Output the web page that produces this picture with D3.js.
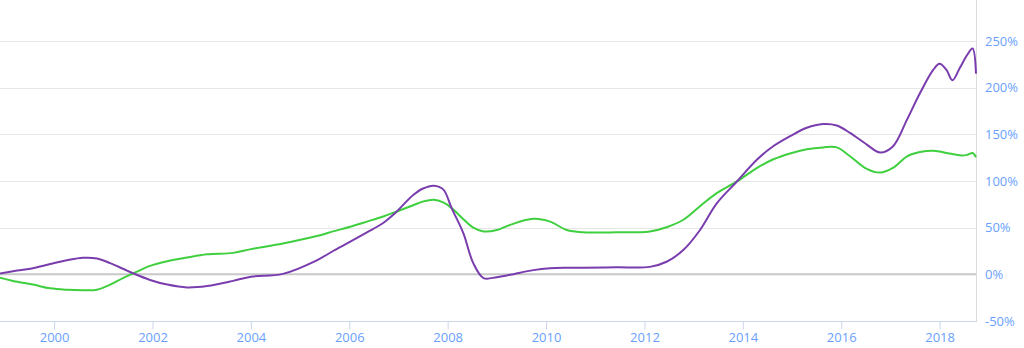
<!DOCTYPE html>
<html>
<head>
<meta charset="utf-8">
<script src="https://cdn.jsdelivr.net/npm/d3@7"></script>
<style>
  html, body { margin: 0; padding: 0; background: #fff; }
  svg { display: block; font-family: "Open Sans", sans-serif; }
</style>
</head>
<body>
<svg id="chart" width="1024" height="348"></svg>
<script>
// ---- data (decimal years, percent values) ----
const dates = [1998.90, 1999.25, 1999.57, 1999.92, 2000.26, 2000.59, 2000.87, 2001.14, 2001.40, 2001.61,
  2001.95, 2002.30, 2002.70, 2003.11, 2003.64, 2004.00, 2004.65, 2005.34, 2005.67, 2006.02,
  2006.36, 2006.69, 2006.90, 2007.30, 2007.50, 2007.72, 2007.91, 2008.08, 2008.32, 2008.52,
  2008.73, 2009.00, 2009.27, 2009.74, 2010.08, 2010.42, 2010.76, 2011.44, 2012.11, 2012.45,
  2012.79, 2013.13, 2013.47, 2013.88, 2014.29, 2014.61, 2014.96, 2015.30, 2015.63, 2015.91,
  2016.18, 2016.52, 2016.79, 2017.05, 2017.34, 2017.60, 2017.87, 2018.00, 2018.14, 2018.26,
  2018.41, 2018.56, 2018.67, 2018.74];
const purpleSeries = [1, 4, 6.5, 11, 15, 17.7, 17, 12, 6, 1,
  -6, -11, -14, -12.5, -7, -2.5, 0.5, 15, 25, 35,
  45, 55, 64, 85, 92, 95, 91, 71, 44, 12,
  -4, -3, -0.5, 4.5, 6.5, 7, 7, 7.5, 8, 13.5,
  26, 47.5, 76, 99.5, 123, 137, 148, 157, 161, 159.5,
  151.5, 139, 130.5, 137, 166, 194, 219, 225.5, 219, 208,
  221, 235, 242, 215];
const greenSeries = [-3.5, -8, -11, -15, -16.5, -17, -16.5, -11, -4, 1,
  9, 14, 18, 21.5, 23, 27, 33, 41, 46, 51,
  56.5, 62, 66, 74, 78, 80, 77, 71, 59, 50,
  46, 47.5, 53, 59.5, 56.5, 47.5, 45, 45, 46, 50.5,
  58.5, 73, 87, 99.5, 114, 123, 129.5, 134, 136, 136,
  126.5, 113, 109, 114, 126.5, 131, 132.5, 131.5, 130, 129,
  127.5, 128, 130, 125.5];
const xTicks = [2000, 2002, 2004, 2006, 2008, 2010, 2012, 2014, 2016, 2018];
const yTicks = [-50, 0, 50, 100, 150, 200, 250];

// ---- layout ----
const svg = d3.select("#chart");
const plotLeft = 0, plotRight = 976, plotTop = 0, plotBottom = 321;
const labelColor = "#6a9fff";

const x = d3.scaleLinear().domain([1998.9, 2018.74]).range([plotLeft, plotRight]);
const y = d3.scaleLinear().domain([-50, 250]).range([plotBottom, 41]);

// gridlines
svg.append("g").selectAll("line")
  .data(yTicks.filter(t => t !== 0 && t !== -50))
  .join("line")
  .attr("x1", plotLeft).attr("x2", plotRight)
  .attr("y1", d => Math.round(y(d)) + 0.5).attr("y2", d => Math.round(y(d)) + 0.5)
  .attr("stroke", "#e6e6e6").attr("stroke-width", 1);

// right border
svg.append("line")
  .attr("x1", plotRight + 0.5).attr("x2", plotRight + 0.5)
  .attr("y1", plotTop).attr("y2", plotBottom)
  .attr("stroke", "#dcdcdc").attr("stroke-width", 1);

// zero line
svg.append("line")
  .attr("x1", plotLeft).attr("x2", plotRight)
  .attr("y1", y(0)).attr("y2", y(0))
  .attr("stroke", "#c8c8c8").attr("stroke-width", 2);

// bottom axis
const xAxis = d3.axisBottom(x).tickValues(xTicks).tickFormat(d3.format("d")).tickSize(8).tickSizeOuter(0);
const gx = svg.append("g").attr("transform", `translate(0,${plotBottom + 0.5})`).call(xAxis);
gx.select(".domain").attr("stroke", "#ccd6eb").attr("d", `M${plotLeft},0H${plotRight + 1}`);
gx.selectAll(".tick line").attr("stroke", "#ccd6eb");
gx.selectAll(".tick text").attr("fill", labelColor).attr("font-size", "13px")
  .attr("font-family", "'Open Sans', sans-serif").attr("dy", "0").attr("y", 20);

// right axis labels
const yAxis = d3.axisRight(y).tickValues(yTicks).tickFormat(d => d + "%").tickSize(0);
const gy = svg.append("g").attr("transform", `translate(${plotRight + 9},0)`).call(yAxis);
gy.select(".domain").remove();
gy.selectAll(".tick text").attr("fill", labelColor).attr("font-size", "13px")
  .attr("font-family", "'Open Sans', sans-serif").attr("x", 0);

// series
const line = vals => d3.line()
  .x((d, i) => x(dates[i]))
  .y(d => y(d))
  .curve(d3.curveCatmullRom.alpha(0.5))(vals);

svg.append("path").attr("d", line(greenSeries))
  .attr("fill", "none").attr("stroke", "#3fcf3f").attr("stroke-width", 2)
  .attr("stroke-linejoin", "round");
svg.append("path").attr("d", line(purpleSeries))
  .attr("fill", "none").attr("stroke", "#7a3dae").attr("stroke-width", 2)
  .attr("stroke-linejoin", "round");
</script>
</body>
</html>
